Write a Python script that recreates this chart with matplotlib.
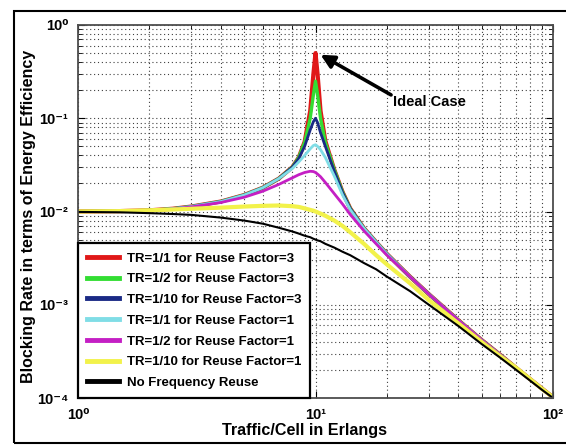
import matplotlib
matplotlib.use("Agg")
import matplotlib.pyplot as plt
from matplotlib.patches import Rectangle

plt.rcParams['font.family'] = ['Liberation Sans', 'DejaVu Sans']
plt.rcParams['font.weight'] = 'bold'

x = [1, 1.5, 2, 2.5, 3, 4, 5, 6, 7, 8, 8.5, 9, 9.5, 9.8, 10, 10.2, 10.5, 11, 12, 13, 14,
     16, 18, 20, 25, 30, 40, 50, 60, 70, 80, 90, 100]

no_reuse = [0.0099, 0.0098, 0.0096, 0.0094, 0.0092, 0.0086, 0.0080, 0.0074, 0.0067, 0.0061,
            0.0058, 0.0055, 0.0053, 0.0051, 0.0050, 0.0049, 0.0048, 0.0045, 0.0041, 0.0037,
            0.0034, 0.0028, 0.0024, 0.0020, 0.0014, 0.0010, 0.00059, 0.00038, 0.00027,
            0.00020, 0.000154, 0.000122, 0.0001]

tr10_rf1 = [0.0100, 0.0101, 0.0103, 0.0105, 0.0107, 0.0110, 0.0113, 0.0115, 0.0116, 0.0114,
            0.0112, 0.0108, 0.0104, 0.0102, 0.0100, 0.0098, 0.0095, 0.0090, 0.0080, 0.0070,
            0.0060, 0.0045, 0.0034, 0.0027, 0.0017, 0.00112, 0.00063, 0.00040, 0.00028,
            0.00021, 0.00016, 0.000125, 0.000102]

tr2_rf1 = [0.0100, 0.0101, 0.0103, 0.0106, 0.0112, 0.0125, 0.0142, 0.0165, 0.0195, 0.0230,
           0.0248, 0.0262, 0.0270, 0.0268, 0.0262, 0.0252, 0.0236, 0.0205, 0.0155, 0.0120,
           0.0093, 0.0062, 0.0045, 0.0034, 0.0020, 0.0013, 0.00068, 0.00042, 0.00029,
           0.00021, 0.00016, 0.000126, 0.000102]

tr1_rf1 = [0.0100, 0.0101, 0.0103, 0.0107, 0.0113, 0.0128, 0.0150, 0.0180, 0.0225, 0.0290,
           0.0340, 0.0400, 0.0470, 0.0510, 0.0520, 0.0500, 0.0460, 0.0380, 0.0240, 0.0150,
           0.0105, 0.0066, 0.0047, 0.0035, 0.0020, 0.0013, 0.00068, 0.00042, 0.00029,
           0.00021, 0.00016, 0.000126, 0.000102]

tr10_rf3 = [0.0100, 0.0101, 0.0103, 0.0107, 0.0113, 0.0128, 0.0150, 0.0180, 0.0225, 0.0300,
            0.0370, 0.0500, 0.0750, 0.0920, 0.1000, 0.0900, 0.0700, 0.0500, 0.0270, 0.0160,
            0.0108, 0.0066, 0.0047, 0.0035, 0.0020, 0.0013, 0.00068, 0.00042, 0.00029,
            0.00021, 0.00016, 0.000126, 0.000102]

tr2_rf3 = [0.0100, 0.0101, 0.0103, 0.0107, 0.0113, 0.0128, 0.0150, 0.0180, 0.0225, 0.0300,
           0.0380, 0.0550, 0.1000, 0.1800, 0.2500, 0.1800, 0.1000, 0.0550, 0.0280, 0.0162,
           0.0108, 0.0066, 0.0047, 0.0035, 0.0020, 0.0013, 0.00068, 0.00042, 0.00029,
           0.00021, 0.00016, 0.000126, 0.000102]

tr1_rf3 = [0.0100, 0.0101, 0.0103, 0.0107, 0.0113, 0.0128, 0.0150, 0.0180, 0.0225, 0.0300,
           0.0380, 0.0560, 0.1200, 0.3000, 0.5000, 0.3000, 0.1200, 0.0570, 0.0280, 0.0162,
           0.0108, 0.0066, 0.0047, 0.0035, 0.0020, 0.0013, 0.00068, 0.00042, 0.00029,
           0.00021, 0.00016, 0.000126, 0.000102]

labels = ['TR=1/1 for Reuse Factor=3', 'TR=1/2 for Reuse Factor=3', 'TR=1/10 for Reuse Factor=3',
          'TR=1/1 for Reuse Factor=1', 'TR=1/2 for Reuse Factor=1', 'TR=1/10 for Reuse Factor=1',
          'No Frequency Reuse']
series = [tr1_rf3, tr2_rf3, tr10_rf3, tr1_rf1, tr2_rf1, tr10_rf1, no_reuse]
colors = ['#e01818', '#33dd33', '#1a2a85', '#80dde6', '#c41fc4', '#f2f24a', '#000000']
widths = [3.0, 2.4, 2.0, 2.0, 2.0, 3.0, 1.5]

xticks = [1, 10, 100]
xtick_labels = ['10⁰', '10¹', '10²']
yticks = [1e-4, 1e-3, 1e-2, 1e-1, 1]
ytick_labels = ['10⁻⁴', '10⁻³', '10⁻²', '10⁻¹', '10⁰']

fig = plt.figure(figsize=(5.66, 4.45), dpi=100)
ax = fig.add_axes([78 / 566, 1 - 398 / 445, 475 / 566, 373 / 445])

for xs_y, c, w, lab in zip(series, colors, widths, labels):
    ax.plot(x, xs_y, color=c, lw=w, label=lab)

ax.set_xscale('log')
ax.set_yscale('log')
ax.set_xlim(1, 100)
ax.set_ylim(1e-4, 1)
ax.set_xticks(xticks)
ax.set_xticklabels(xtick_labels, fontsize=10.5, fontweight='bold')
ax.set_yticks(yticks)
ax.set_yticklabels(ytick_labels, fontsize=10.5, fontweight='bold')
ax.tick_params(which='both', direction='in', top=True, right=True)
ax.tick_params(which='major', length=5, pad=7)
ax.tick_params(which='minor', length=3)
ax.yaxis.set_minor_formatter(matplotlib.ticker.NullFormatter())
ax.xaxis.set_minor_formatter(matplotlib.ticker.NullFormatter())
ax.grid(True, which='both', linestyle=(0, (1, 2.5)), color='0.25', lw=0.8)
for s in ax.spines.values():
    s.set_linewidth(1.3)
    s.set_color('0.3')

ax.set_xlabel('Traffic/Cell in Erlangs', fontsize=11.6, fontweight='bold')
ax.xaxis.set_label_coords(0.477, -0.068)
ax.set_ylabel('Blocking Rate in terms of Energy Efficiency', fontsize=11.5, fontweight='bold')
ax.yaxis.set_label_coords(-0.088, 0.488)

leg = ax.legend(loc='lower left', bbox_to_anchor=(0, 0),
                borderaxespad=0, fancybox=False, framealpha=1, edgecolor='black',
                prop={'size': 9.5, 'weight': 'bold'}, handlelength=2.4, handletextpad=0.6,
                labelspacing=0.645, borderpad=0.68)
leg.get_frame().set_linewidth(1.6)
for lh in leg.get_lines():
    lh.set_linewidth(3.5)

ax.text(21.1, 0.151, 'Ideal Case', fontsize=10.5, fontweight='bold', ha='left', va='center')
ax.annotate('', xy=(10.5, 0.48), xytext=(20.8, 0.178),
            arrowprops=dict(arrowstyle='-|>,head_length=0.8,head_width=0.4', color='black', lw=2.6,
                            shrinkA=0, shrinkB=0))

fig.patches.append(Rectangle((14 / 566, 2 / 445), 1, 1 - 13 / 445, transform=fig.transFigure,
                             fill=False, edgecolor='black', lw=1.5))

fig.savefig('out.png', dpi=100)
